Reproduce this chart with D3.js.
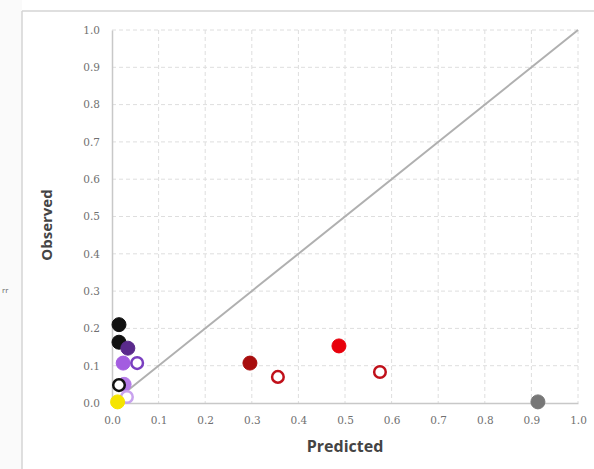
<!DOCTYPE html>
<html>
<head>
<meta charset="utf-8">
<script src="https://cdn.jsdelivr.net/npm/d3@7"></script>
<style>
  body { margin: 0; background: #fff; }
  svg { display: block; font-family: "Open Sans", "DejaVu Sans", sans-serif; }
</style>
</head>
<body>
<div id="chart"></div>
<script>
// data
const predicted = [0.015, 0.015, 0.034, 0.024, 0.054, 0.026, 0.015, 0.032, 0.012, 0.296, 0.356, 0.487, 0.575, 0.914];
const observed  = [0.210, 0.163, 0.147, 0.107, 0.107, 0.050, 0.048, 0.016, 0.003, 0.107, 0.070, 0.153, 0.083, 0.003];
const fills     = ["#111111", "#111111", "#5a2a8c", "#a35de0", "#ffffff", "#b57be8", "#ffffff", "#ffffff", "#f5e400", "#a80d0d", "#ffffff", "#e8000b", "#ffffff", "#777777"];
const strokes   = ["#111111", "#111111", "#5a2a8c", "#a35de0", "#7a3fc0", "#b57be8", "#111111", "#c8a2ee", "#f5e400", "#a80d0d", "#c0101a", "#e8000b", "#c0101a", "#777777"];
const tickValues = [0, 0.1, 0.2, 0.3, 0.4, 0.5, 0.6, 0.7, 0.8, 0.9, 1.0];

const W = 594, H = 469;
const margin = {top: 30, right: 16, bottom: 66, left: 112};
const width = W - margin.left - margin.right;
const height = H - margin.top - margin.bottom;

const root = d3.select("#chart").append("svg")
  .attr("width", W)
  .attr("height", H);

// outer frame (cropped chart panel)
root.append("rect").attr("x", 0).attr("y", 0).attr("width", 22).attr("height", H).attr("fill", "#fafafa");
root.append("line").attr("x1", 22).attr("x2", 22).attr("y1", 11).attr("y2", H)
  .attr("stroke", "#d4d4d4").attr("stroke-width", 1.5);
root.append("line").attr("x1", 22).attr("x2", W).attr("y1", 11).attr("y2", 11)
  .attr("stroke", "#d4d4d4").attr("stroke-width", 1.5);
root.append("text").attr("x", 2).attr("y", 293).attr("font-size", 8).attr("fill", "#666").text("rr");

const svg = root.append("g").attr("transform", `translate(${margin.left},${margin.top})`);

const x = d3.scaleLinear().domain([0, 1]).range([0, width]);
const y = d3.scaleLinear().domain([0, 1]).range([height, 0]);

// gridlines
svg.append("g").selectAll("line").data(tickValues.slice(1)).enter().append("line")
  .attr("x1", d => x(d)).attr("x2", d => x(d))
  .attr("y1", 0).attr("y2", height)
  .attr("stroke", "#dedede").attr("stroke-dasharray", "4,3");
svg.append("g").selectAll("line").data(tickValues.slice(1)).enter().append("line")
  .attr("x1", 0).attr("x2", width)
  .attr("y1", d => y(d)).attr("y2", d => y(d))
  .attr("stroke", "#dedede").attr("stroke-dasharray", "4,3");

// axes
const xAxis = svg.append("g")
  .attr("transform", `translate(0,${height})`)
  .call(d3.axisBottom(x).tickValues(tickValues).tickFormat(d3.format(".1f")).tickSize(0).tickPadding(14));
const yAxis = svg.append("g")
  .call(d3.axisLeft(y).tickValues(tickValues).tickFormat(d3.format(".1f")).tickSize(0).tickPadding(12));
[xAxis, yAxis].forEach(a => {
  a.select(".domain").attr("stroke", "#c8c8c8").attr("stroke-width", 1.5);
  a.selectAll("text").attr("fill", "#707070").attr("font-size", 10.5)
    .attr("font-family", "'DejaVu Serif', serif");
});

// 1:1 line
svg.append("line")
  .attr("x1", x(0)).attr("y1", y(0))
  .attr("x2", x(1)).attr("y2", y(1))
  .attr("stroke", "#b0b0b0").attr("stroke-width", 2);

// points
svg.append("g").selectAll("circle")
  .data(predicted.map((p, i) => ({p, o: observed[i], fill: fills[i], stroke: strokes[i]})))
  .enter().append("circle")
  .attr("cx", d => x(d.p))
  .attr("cy", d => y(d.o))
  .attr("r", d => d.fill === "#ffffff" ? 5.8 : 7)
  .attr("fill", d => d.fill)
  .attr("stroke", d => d.stroke)
  .attr("stroke-width", d => d.fill === "#ffffff" ? 2.5 : 1);

// axis titles
svg.append("text")
  .attr("x", width / 2).attr("y", height + 49)
  .attr("text-anchor", "middle")
  .attr("font-size", 16).attr("font-weight", "bold").attr("fill", "#444")
  .text("Predicted");
svg.append("text")
  .attr("transform", `translate(${52 - margin.left},${225 - margin.top}) rotate(-90)`)
  .attr("text-anchor", "middle")
  .attr("font-size", 15).attr("font-weight", "bold").attr("fill", "#444")
  .text("Observed");
</script>
</body>
</html>
